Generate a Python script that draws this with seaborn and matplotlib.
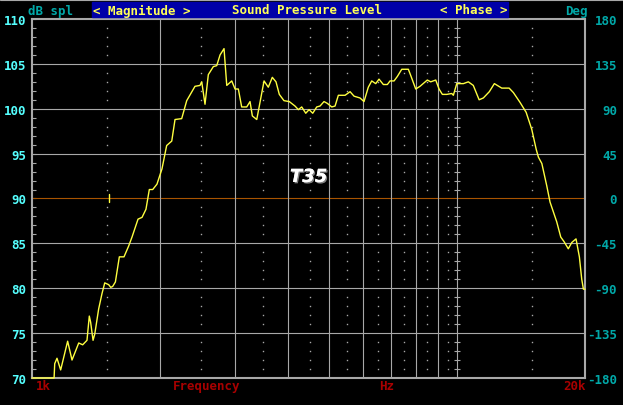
import matplotlib
matplotlib.use('Agg')
import matplotlib.pyplot as plt
import matplotlib.patheffects as pe
from matplotlib.patches import Rectangle
from matplotlib.lines import Line2D
import seaborn as sns
import pandas as pd

# measured SPL curve (Hz, dB)
freq_hz = [1000, 1127, 1131, 1145, 1168, 1213, 1242, 1288, 1316, 1347, 1364, 1374,
           1392, 1405, 1435, 1461, 1483, 1515, 1532, 1548, 1571, 1605, 1646, 1688,
           1719, 1776, 1815, 1854, 1888, 1923, 1968, 2022, 2074, 2132, 2170, 2250,
           2312, 2418, 2485, 2508, 2553, 2599, 2671, 2720, 2770, 2830, 2872, 2951,
           3004, 3058, 3114, 3200, 3258, 3299, 3379, 3515, 3597, 3676, 3750, 3818,
           3916, 4030, 4157, 4233, 4311, 4406, 4486, 4576, 4676, 4760, 4864, 4952,
           5072, 5164, 5257, 5452, 5602, 5724, 5912, 6041, 6183, 6299, 6437, 6553,
           6708, 6855, 6956, 7109, 7237, 7412, 7681, 7782, 7994, 8182, 8512, 8670,
           8910, 9071, 9235, 9458, 9717, 9802, 9984, 10350, 10630, 10920, 11270,
           11530, 11910, 12240, 12740, 13260, 13570, 14070, 14540, 14990, 15350,
           15540, 15830, 16260, 16550, 16850, 17160, 17540, 17850, 18270, 18620,
           19050, 19400, 19650, 19830, 20000]
spl_db = [70.0, 70.0, 71.6, 72.2, 70.9, 74.1, 72.0, 73.9, 73.7, 74.2, 76.9, 76.2,
          74.2, 74.9, 77.7, 79.4, 80.6, 80.4, 80.1, 80.2, 80.7, 83.5, 83.5, 84.7,
          85.7, 87.7, 87.9, 88.8, 91.0, 91.0, 91.6, 93.3, 95.9, 96.4, 98.8, 98.9,
          100.9, 102.5, 102.6, 103.0, 100.5, 103.8, 104.7, 104.8, 106.0, 106.7, 102.6, 103.1,
          102.2, 102.2, 100.2, 100.2, 100.8, 99.2, 98.8, 103.1, 102.4, 103.5, 103.0, 101.6,
          100.9, 100.8, 100.3, 99.9, 100.2, 99.5, 99.9, 99.5, 100.2, 100.3, 100.8, 100.6,
          100.2, 100.3, 101.5, 101.5, 101.9, 101.4, 101.2, 100.8, 102.4, 103.1, 102.8, 103.3,
          102.7, 102.7, 103.1, 103.1, 103.6, 104.4, 104.4, 103.7, 102.2, 102.5, 103.2, 103.0,
          103.2, 102.2, 101.6, 101.6, 101.7, 101.5, 102.8, 102.8, 103.0, 102.6, 101.0,
          101.2, 101.9, 102.8, 102.3, 102.3, 101.8, 100.7, 99.6, 97.7, 95.5,
          94.6, 93.9, 91.4, 89.6, 88.5, 87.4, 85.7, 85.2, 84.4, 85.1,
          85.5, 83.5, 81.0, 79.9, 79.9]

db_ticks = [70, 75, 80, 85, 90, 95, 100, 105, 110]
deg_ticks = [-180, -135, -90, -45, 0, 45, 90, 135, 180]
grid_freqs = [2000, 3000, 4000, 5000, 6000, 7000, 8000, 9000, 10000]
dot_freqs = [1500, 2500, 3500, 4500, 5500, 6500, 7500, 8500, 9500, 15000]
cursor_freq = 1520
cursor_db = [89.6, 90.5]

GREY = '#a8a8a8'
MONO = {'family': 'DejaVu Sans Mono', 'weight': 'bold', 'size': 9}

sns.set_theme(style='dark')
plt.rcParams['axes.unicode_minus'] = False

fig = plt.figure(figsize=(6.23, 4.06), dpi=100, facecolor='black')
ax = fig.add_axes([32 / 623, 27 / 406, 553 / 623, 359 / 406])
ax.set_facecolor('black')
ax.set_xscale('log')
ax.set_xlim(1000, 20000)
ax.set_ylim(70, 110)

# grid
for d in db_ticks[1:-1]:
    ax.axhline(d, color='#a85400' if d == 90 else GREY, lw=0.8, zorder=1)
for f in grid_freqs:
    ax.axvline(f, color=GREY, lw=0.8, zorder=1)
minor_db = [d for d in range(71, 110) if d % 5]
for f in dot_freqs:
    ax.plot([f] * len(minor_db), minor_db, ls='', marker='s', ms=1.0, mew=0,
            color=GREY, zorder=1)
ax.plot([10000] * len(minor_db), minor_db, ls='', marker='_', ms=5, mew=0.8,
        color=GREY, zorder=1)

df = pd.DataFrame({'freq': freq_hz, 'spl': spl_db})
sns.lineplot(data=df, x='freq', y='spl', ax=ax, color='#ffff40', lw=1.0,
             zorder=3, clip_on=False)
ax.plot([cursor_freq, cursor_freq], cursor_db, color='#ffff40', lw=1.0, zorder=3)

ax.set_xlabel('')
ax.set_ylabel('')
ax.set_xticks([])
ax.minorticks_off()
ax.set_yticks(db_ticks)
ax.set_yticks(minor_db, minor=True)
ax.tick_params(axis='y', which='both', direction='in', length=3, width=0.8,
               color=GREY, left=True, right=True, pad=4, labelcolor='#55ffff')
for lab in ax.get_yticklabels():
    lab.set_fontproperties(MONO)
for s in ax.spines.values():
    s.set_color(GREY)
    s.set_linewidth(1.5)
    s.set_visible(True)
    s.set_zorder(2)

ax2 = ax.twinx()
ax2.set_ylim(-180, 180)
ax2.set_yticks(deg_ticks)
ax2.tick_params(axis='y', length=0, pad=23, labelcolor='#00a8a8')
for lab in ax2.get_yticklabels():
    lab.set_fontproperties(MONO)
    lab.set_horizontalalignment('right')
for s in ax2.spines.values():
    s.set_visible(False)
ax2.grid(False)
ax.grid(False)

ax.text(0.5, 0.56, 'T35', transform=ax.transAxes, ha='center', va='center',
        color='white', fontsize=13, fontweight='bold', fontstyle='italic',
        path_effects=[pe.withSimplePatchShadow(offset=(1, -1), shadow_rgbFace='#808080', alpha=1),
                      pe.Normal()], zorder=4)

# header bar
fig.add_artist(Line2D([0, 1], [1 - 0.5 / 406] * 2, color=GREY, lw=0.8))
fig.add_artist(Rectangle((92 / 623, 1 - 18 / 406), 416 / 623, 15 / 406,
                         transform=fig.transFigure, color='#0000a8'))
fig.text(51 / 623, 1 - 11 / 406, 'dB spl', color='#00a8a8', ha='center', va='center', **MONO)
fig.text(93 / 623, 1 - 11 / 406, '< Magnitude >', color='#ffff55', ha='left', va='center', **MONO)
fig.text(307 / 623, 1 - 11 / 406, 'Sound Pressure Level', color='#ffff55', ha='center', va='center', **MONO)
fig.text(507 / 623, 1 - 11 / 406, '< Phase >', color='#ffff55', ha='right', va='center', **MONO)
fig.text(576 / 623, 1 - 11 / 406, 'Deg', color='#00a8a8', ha='center', va='center', **MONO)

# bottom labels
for x, t in [(43, '1k'), (207, 'Frequency'), (387, 'Hz'), (575, '20k')]:
    fig.text(x / 623, 1 - 387 / 406, t, color='#a80000', ha='center', va='center', **MONO)

fig.savefig('out.png', dpi=100, facecolor='black')
